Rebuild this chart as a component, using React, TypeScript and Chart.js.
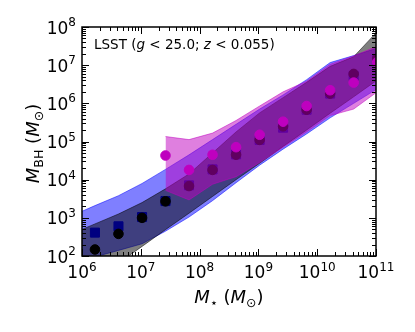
import React, { useEffect, useRef } from "react";
import { Chart, registerables } from "chart.js";

Chart.register(...registerables);

// ---- data ----
const xTickExponents = [6, 7, 8, 9, 10, 11];
const yTickExponents = [2, 3, 4, 5, 6, 7, 8];

// stellar-mass bin centres (M_sun)
const binMass = [1.66e6, 4.17e6, 1.05e7, 2.63e7, 6.61e7, 1.66e8, 4.17e8, 1.05e9, 2.63e9, 6.61e9, 1.66e10, 4.17e10, 1.05e11];
const blackCircleBH = [148, 380, 1000, 2700, 6800, 1.8e4, 4.5e4, 1.1e5, 2.5e5, 6.8e5, 1.8e6, 5.9e6, 1.5e7];
const navySquareBH = [410, 600, 1050, 2750, 7100, 1.86e4, 4.6e4, 1.1e5, 2.3e5, 6.8e5, 1.8e6, 5.2e6, 1.4e7];
const magentaMass = [2.63e7, 6.61e7, 1.66e8, 4.17e8, 1.05e9, 2.63e9, 6.61e9, 1.66e10, 4.17e10, 1.05e11];
const magentaCircleBH = [4.3e4, 1.8e4, 4.5e4, 7.1e4, 1.5e5, 3.3e5, 8.5e5, 2.2e6, 3.5e6, 1.2e7];

// band nodes
const bandMass = [6.6e5, 1.66e6, 4.17e6, 1.05e7, 2.63e7, 6.61e7, 1.66e8, 4.17e8, 1.05e9, 2.63e9, 6.61e9, 1.66e10, 4.17e10, 1.05e11];
const blueUpper = [1120, 2090, 3800, 7940, 1.86e4, 4.47e4, 1.12e5, 2.82e5, 7.08e5, 1.66e6, 4.17e6, 1.17e7, 1.78e7, 2.8e7];
const blueLower = [79, 95, 140, 209, 447, 1050, 2820, 8320, 2.4e4, 6.31e4, 1.58e5, 4.17e5, 1.0e6, 2.4e6];
const greyUpper = [380, 692, 1260, 2510, 5750, 1.41e4, 5.01e4, 1.78e5, 5.62e5, 1.41e6, 3.55e6, 9.3e6, 1.66e7, 7.59e7];
const greyLower = [8.7, 24, 65, 178, 490, 1320, 3630, 1.0e4, 2.69e4, 7.41e4, 2.0e5, 5.5e5, 1.48e6, 4.07e6];
const magentaBandMass = [2.63e7, 6.61e7, 1.66e8, 4.17e8, 1.05e9, 2.63e9, 6.61e9, 1.66e10, 4.17e10, 1.05e11];
const magentaUpper = [1.35e5, 1.12e5, 1.66e5, 3.55e5, 8.51e5, 2.0e6, 3.8e6, 1.05e7, 1.74e7, 3.16e7];
const magentaLower = [5250, 2950, 7590, 1.2e4, 2.82e4, 7.08e4, 1.78e5, 4.79e5, 7.08e5, 2.0e6];

const FONT = '"DejaVu Sans", sans-serif';

type Part = { t: string; size: number; italic?: boolean; dy?: number };

function setFont(ctx: CanvasRenderingContext2D, p: Part) {
  ctx.font = `${p.italic ? "italic " : ""}${p.size}px ${FONT}`;
}
function partsWidth(ctx: CanvasRenderingContext2D, parts: Part[]) {
  let w = 0;
  for (const p of parts) {
    setFont(ctx, p);
    w += ctx.measureText(p.t).width;
  }
  return w;
}
function drawParts(ctx: CanvasRenderingContext2D, parts: Part[], x: number, y: number) {
  let cx = x;
  for (const p of parts) {
    setFont(ctx, p);
    ctx.fillText(p.t, cx, y + (p.dy || 0));
    cx += ctx.measureText(p.t).width;
  }
}

const pts = (xs: number[], ys: number[]) => xs.map((x, i) => ({ x, y: ys[i] }));

const framePlugin = {
  id: "mplFrame",
  afterDraw(chart: any) {
    const { ctx, chartArea: a, scales } = chart;
    const xs = scales.x;
    const ys = scales.y;
    ctx.save();
    ctx.strokeStyle = "#000";
    ctx.fillStyle = "#000";
    ctx.lineWidth = 1;
    const seg = (x1: number, y1: number, x2: number, y2: number) => {
      ctx.beginPath();
      ctx.moveTo(x1, y1);
      ctx.lineTo(x2, y2);
      ctx.stroke();
    };
    // x ticks
    for (let i = 0; i < xTickExponents.length; i++) {
      const e = xTickExponents[i];
      for (let k = 1; k <= 9; k++) {
        if (i === xTickExponents.length - 1 && k > 1) break;
        const px = Math.round(xs.getPixelForValue(k * Math.pow(10, e))) + 0.5;
        const len = k === 1 ? 7 : 4;
        seg(px, a.bottom, px, a.bottom - len);
        seg(px, a.top, px, a.top + len);
      }
    }
    // y ticks
    for (let i = 0; i < yTickExponents.length; i++) {
      const e = yTickExponents[i];
      for (let k = 1; k <= 9; k++) {
        if (i === yTickExponents.length - 1 && k > 1) break;
        const py = Math.round(ys.getPixelForValue(k * Math.pow(10, e))) + 0.5;
        const len = k === 1 ? 7 : 4;
        seg(a.left, py, a.left + len, py);
        seg(a.right, py, a.right - len, py);
      }
    }
    ctx.lineWidth = 1.5;
    ctx.strokeRect(a.left, a.top, a.right - a.left, a.bottom - a.top);

    // tick labels
    ctx.textAlign = "left";
    ctx.textBaseline = "alphabetic";
    for (const e of xTickExponents) {
      const parts: Part[] = [
        { t: "10", size: 17 },
        { t: String(e), size: 12, dy: -7.5 },
      ];
      const w = partsWidth(ctx, parts);
      const px = xs.getPixelForValue(Math.pow(10, e));
      drawParts(ctx, parts, px - w / 2, a.bottom + 22);
    }
    for (const e of yTickExponents) {
      const parts: Part[] = [
        { t: "10", size: 17 },
        { t: String(e), size: 12, dy: -7.5 },
      ];
      const w = partsWidth(ctx, parts);
      const py = ys.getPixelForValue(Math.pow(10, e));
      drawParts(ctx, parts, a.left - 6 - w, py + 6.5);
    }

    // x title
    const xt: Part[] = [
      { t: "M", size: 18, italic: true },
      { t: "⋆", size: 12.6, dy: 3.5 },
      { t: " (", size: 18 },
      { t: "M", size: 18, italic: true },
      { t: "⊙", size: 12.6, dy: 3.5 },
      { t: ")", size: 18 },
    ];
    const xw = partsWidth(ctx, xt);
    drawParts(ctx, xt, (a.left + a.right) / 2 - xw / 2, 303);

    // y title
    const yt: Part[] = [
      { t: "M", size: 18, italic: true },
      { t: "BH", size: 12.6, dy: 3.5 },
      { t: " (", size: 18 },
      { t: "M", size: 18, italic: true },
      { t: "⊙", size: 12.6, dy: 3.5 },
      { t: ")", size: 18 },
    ];
    const yw = partsWidth(ctx, yt);
    ctx.save();
    ctx.translate(39, (a.top + a.bottom) / 2 + 2);
    ctx.rotate(-Math.PI / 2);
    drawParts(ctx, yt, -yw / 2, 0);
    ctx.restore();

    // annotation
    const ann: Part[] = [
      { t: "LSST (", size: 13.5 },
      { t: "g", size: 13.5, italic: true },
      { t: " < 25.0; ", size: 13.5 },
      { t: "z", size: 13.5, italic: true },
      { t: " < 0.055)", size: 13.5 },
    ];
    drawParts(ctx, ann, 94, 49);
    ctx.restore();
  },
};

export default function App() {
  const ref = useRef<HTMLCanvasElement | null>(null);
  useEffect(() => {
    if (!ref.current) return;
    const band = (ys: number[], xsArr: number[], color: string, order: number, fill: any) => ({
      type: "line" as const,
      data: pts(xsArr, ys),
      borderColor: color,
      backgroundColor: color,
      borderWidth: 1,
      pointRadius: 0,
      tension: 0,
      fill,
      order,
      clip: 0,
    });
    const chart = new Chart(ref.current, {
      type: "scatter",
      data: {
        datasets: [
          {
            data: pts(magentaMass, magentaCircleBH),
            backgroundColor: "rgb(191,0,191)",
            borderColor: "rgb(191,0,191)",
            borderWidth: 1,
            pointRadius: 4.8,
            order: 0,
            clip: 0,
          } as any,
          band(magentaUpper, magentaBandMass, "rgba(191,0,191,0.5)", 1, "+1"),
          band(magentaLower, magentaBandMass, "rgba(191,0,191,0.5)", 1, false),
          {
            data: pts(binMass, blackCircleBH),
            backgroundColor: "#000",
            borderColor: "#000",
            borderWidth: 1,
            pointRadius: 4.8,
            order: 2,
            clip: 0,
          },
          {
            data: pts(binMass, navySquareBH),
            backgroundColor: "rgb(0,0,128)",
            borderColor: "rgb(0,0,128)",
            borderWidth: 1,
            pointStyle: "rect",
            pointRadius: 6.4,
            order: 3,
            clip: 0,
          },
          band(greyUpper, bandMass, "rgba(0,0,0,0.5)", 4, "+1"),
          band(greyLower, bandMass, "rgba(0,0,0,0.5)", 4, false),
          band(blueUpper, bandMass, "rgba(0,0,255,0.5)", 5, "+1"),
          band(blueLower, bandMass, "rgba(0,0,255,0.5)", 5, false),
        ] as any,
      },
      options: {
        responsive: false,
        animation: false,
        devicePixelRatio: 1,
        layout: { padding: { left: 0, right: 39, top: 27, bottom: 0 } },
        plugins: { legend: { display: false }, tooltip: { enabled: false }, title: { display: false } },
        scales: {
          x: {
            type: "logarithmic",
            min: 1e6,
            max: 1e11,
            ticks: { display: false },
            grid: { display: false },
            border: { display: false },
            afterFit: (s: any) => {
              s.height = 76;
            },
          },
          y: {
            type: "logarithmic",
            min: 1e2,
            max: 1e8,
            ticks: { display: false },
            grid: { display: false },
            border: { display: false },
            afterFit: (s: any) => {
              s.width = 82;
            },
          },
        },
      },
      plugins: [framePlugin],
    });
    return () => chart.destroy();
  }, []);
  return (
    <div style={{ position: "absolute", left: 0, top: 0, width: 415, height: 332, background: "#fff" }}>
      <canvas ref={ref} width={415} height={332} style={{ display: "block" }} />
    </div>
  );
}
